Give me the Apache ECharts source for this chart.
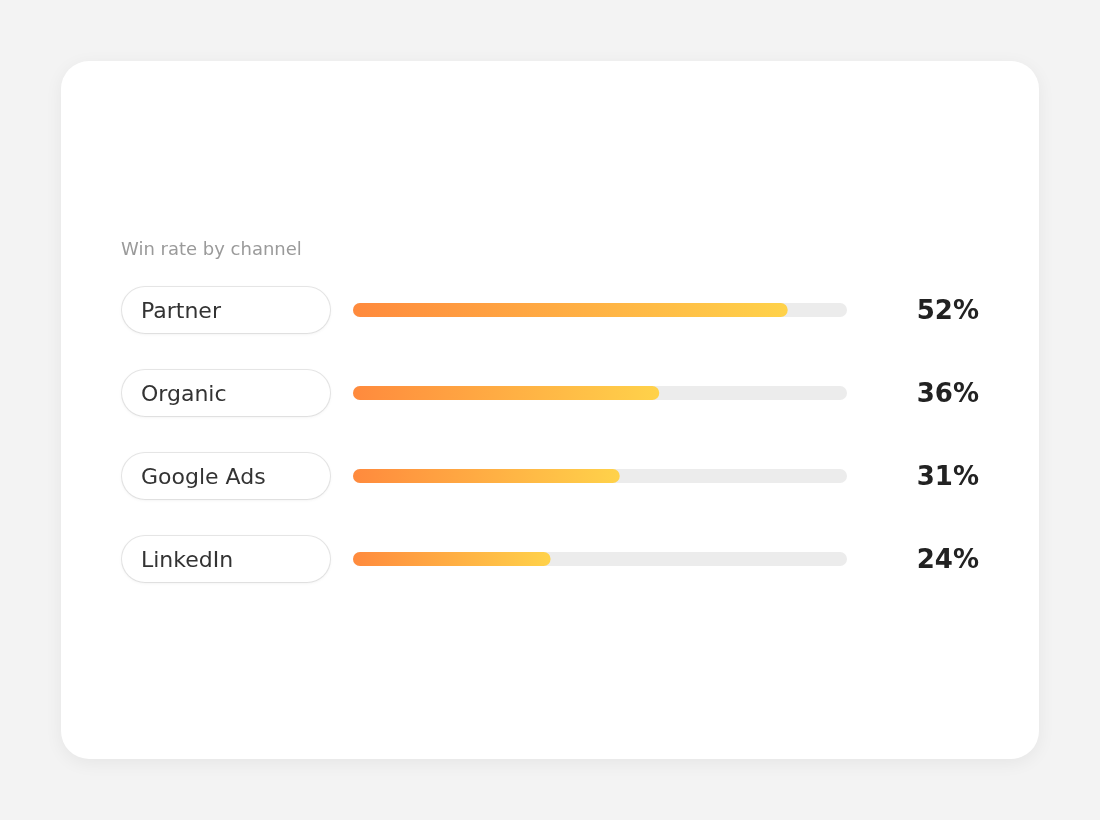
<!DOCTYPE html>
<html>
<head>
<meta charset="utf-8">
<script src="https://cdn.jsdelivr.net/npm/echarts@6/dist/echarts.min.js"></script>
<style>
    html, body { margin: 0; padding: 0; background: #f3f3f3; }
    #card {
        position: absolute; left: 61px; top: 61px; width: 978px; height: 698px;
        background: #fff; border-radius: 28px;
        box-shadow: 0 4px 18px rgba(0, 0, 0, 0.06);
    }
    #chart { position: absolute; left: 0; top: 0; width: 1100px; height: 820px; }
</style>
</head>
<body>
<div id="card"></div>
<div id="chart"></div>
<script>
// channels, win rate shown on the right, and bar fill (% of track)
var channels = ['Partner', 'Organic', 'Google Ads', 'LinkedIn'];
var winRate = [52, 36, 31, 24];
var barFill = [88, 62, 54, 40];
var trackFull = [100, 100, 100, 100];

var chartDom = document.getElementById('chart');
var myChart = echarts.init(chartDom);

var fontFamily = 'DejaVu Sans';

var option = {
    backgroundColor: 'transparent',
    animation: false,
    title: {
        text: 'Win rate by channel',
        left: 116,
        top: 236,
        textStyle: { fontFamily: fontFamily, fontSize: 18, fontWeight: 'normal', color: '#9a9a9a' }
    },
    grid: { left: 353, right: 253, top: 268.5, bottom: 219.5, containLabel: false },
    xAxis: {
        type: 'value',
        min: 0,
        max: 100,
        show: false
    },
    yAxis: [
        {
            type: 'category',
            data: channels,
            inverse: true,
            axisLine: { show: false },
            axisTick: { show: false },
            splitLine: { show: false },
            axisLabel: {
                align: 'left',
                margin: 231,
                width: 189,
                padding: [11, 0, 11, 19],
                backgroundColor: '#fff',
                borderColor: '#e6e6e6',
                borderWidth: 1,
                borderRadius: 23,
                shadowColor: 'rgba(0,0,0,0.04)',
                shadowBlur: 3,
                shadowOffsetY: 1,
                formatter: function (v) { return '{t|' + v + '}'; },
                rich: {
                    t: {
                        fontFamily: fontFamily,
                        fontSize: 22,
                        color: '#333',
                        lineHeight: 24,
                        padding: [4, 0, 0, 0]
                    }
                }
            }
        },
        {
            type: 'category',
            data: winRate,
            inverse: true,
            position: 'right',
            axisLine: { show: false },
            axisTick: { show: false },
            splitLine: { show: false },
            axisLabel: {
                align: 'right',
                margin: 132,
                formatter: function (v) { return '{p|' + v + '%}'; },
                rich: {
                    p: {
                        fontFamily: fontFamily,
                        fontSize: 26,
                        fontWeight: 'bold',
                        color: '#222',
                        lineHeight: 28,
                        padding: [4, 0, 0, 0]
                    }
                }
            }
        }
    ],
    series: [
        {
            type: 'bar',
            data: trackFull,
            barWidth: 14,
            barGap: '-100%',
            silent: true,
            itemStyle: { color: '#ececec', borderRadius: 7 }
        },
        {
            type: 'bar',
            data: barFill,
            barWidth: 14,
            itemStyle: {
                borderRadius: 7,
                color: new echarts.graphic.LinearGradient(0, 0, 1, 0, [
                    { offset: 0, color: '#ff8a3d' },
                    { offset: 1, color: '#ffd24a' }
                ])
            }
        }
    ]
};

option && myChart.setOption(option);
</script>
</body>
</html>
